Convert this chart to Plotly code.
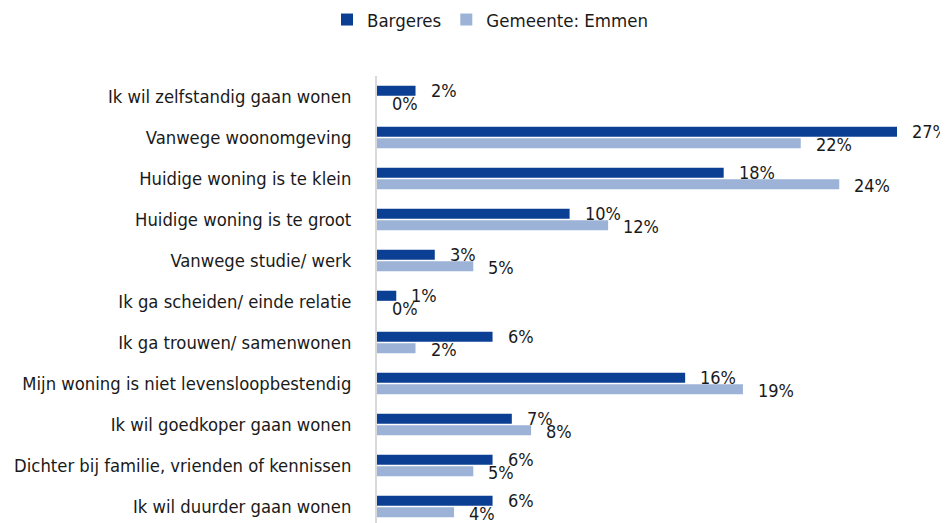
import plotly.graph_objects as go

categories = [
    "Ik wil zelfstandig gaan wonen",
    "Vanwege woonomgeving",
    "Huidige woning is te klein",
    "Huidige woning is te groot",
    "Vanwege studie/ werk",
    "Ik ga scheiden/ einde relatie",
    "Ik ga trouwen/ samenwonen",
    "Mijn woning is niet levensloopbestendig",
    "Ik wil goedkoper gaan wonen",
    "Dichter bij familie, vrienden of kennissen",
    "Ik wil duurder gaan wonen",
]
bargeres = [2, 27, 18, 10, 3, 1, 6, 16, 7, 6, 6]
emmen = [0, 22, 24, 12, 5, 0, 2, 19, 8, 5, 4]

FONT = "Liberation Sans Narrow, DejaVu Sans Condensed, Arial Narrow, sans-serif"
DARK = "#0B3F93"
LIGHT = "#9CB2D6"
TXT = "#1a1a1a"

# page body has an 8px default margin; figure sized to fit the 948x523 window
W, H = 940, 515
ML, MT, MR = 369, 68, 38
PW = W - ML - MR

fig = go.Figure()
fig.add_trace(go.Bar(name="Bargeres", y=categories, x=bargeres, orientation="h",
                     marker=dict(color=DARK, line=dict(width=0))))
fig.add_trace(go.Bar(name="Gemeente: Emmen", y=categories, x=emmen, orientation="h",
                     marker=dict(color=LIGHT, line=dict(width=0))))

annotations = []
for c, v in zip(categories, bargeres):
    annotations.append(dict(x=v, y=c, xref="x", yref="y", text=f"{v}%", showarrow=False,
                            xanchor="left", yanchor="middle", xshift=13, yshift=6.5,
                            font=dict(family=FONT, size=18, color=TXT)))
for c, v in zip(categories, emmen):
    annotations.append(dict(x=v, y=c, xref="x", yref="y", text=f"{v}%", showarrow=False,
                            xanchor="left", yanchor="middle", xshift=13, yshift=-6.5,
                            font=dict(family=FONT, size=18, color=TXT)))

fig.update_layout(
    width=W, height=H,
    margin=dict(l=ML, r=MR, t=MT, b=0, autoexpand=False),
    paper_bgcolor="white", plot_bgcolor="white",
    barmode="group", bargap=0.44, bargroupgap=0.12,
    font=dict(family=FONT, size=18.5, color=TXT),
    showlegend=True,
    legend=dict(orientation="h", x=-50 / PW, xanchor="left", y=1 - 12 / H, yref="container",
                yanchor="middle", font=dict(family=FONT, size=18.5, color=TXT),
                traceorder="normal"),
    annotations=annotations,
    xaxis=dict(visible=False, range=[0, PW / 19.26], showgrid=False, zeroline=False),
    yaxis=dict(type="category", categoryorder="array", categoryarray=categories,
               range=[10.402, -0.5], showline=True, linecolor="#d9d9d9", linewidth=2,
               showgrid=False, zeroline=False, ticks="", ticklabelstandoff=20,
               automargin=False,
               tickfont=dict(family=FONT, size=18.3, color=TXT)),
)

fig.write_html("out.html")
